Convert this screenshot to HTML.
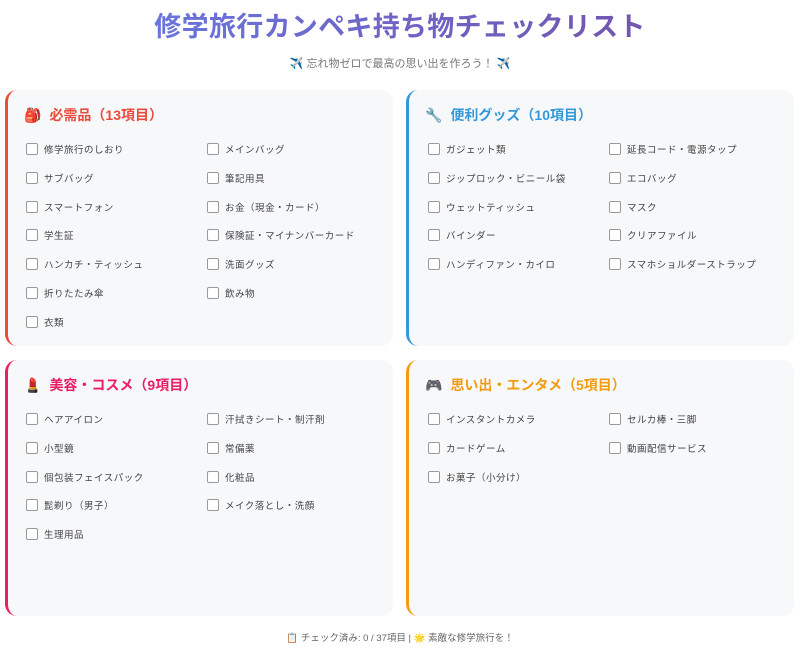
<!DOCTYPE html>
<html><head><meta charset="utf-8"><style>
*{margin:0;padding:0;box-sizing:border-box}
body{width:800px;height:651px;background:#fff;font-family:"Liberation Sans","Noto Sans CJK JP",sans-serif;position:relative;overflow:hidden}
h1{position:absolute;top:5px;left:0;width:800px;text-align:center;font-size:27px;font-weight:bold;color:#6a5fc8;background:linear-gradient(90deg,#667eea,#764ba2);-webkit-background-clip:text;background-clip:text;-webkit-text-fill-color:transparent;letter-spacing:0.3px}
.sub{position:absolute;top:55px;left:0;width:800px;text-align:center;font-size:11px;color:#777}
.card{position:absolute;width:388px;height:256px;background:#f7f8fa;border-radius:12px;border-left:3px solid}
.card h2{position:absolute;left:16px;top:15px;font-size:14px;font-weight:bold}
.card h2 span{margin-right:8px}
.it{position:absolute;font-size:9.5px;color:#444;white-space:nowrap;letter-spacing:0.5px}
.it:before{content:"";display:inline-block;width:10px;height:10px;border:1px solid #999;border-radius:2px;background:#fff;vertical-align:-2px;margin-right:6px}
.foot{position:absolute;top:630px;left:0;width:800px;text-align:center;font-size:9.5px;color:#666}
</style></head><body>
<h1>修学旅行カンペキ持ち物チェックリスト</h1>
<div class="sub">✈️ 忘れ物ゼロで最高の思い出を作ろう！ ✈️</div>

<div class="card" style="left:5px;top:90px;border-color:#e74c3c">
<h2 style="color:#e74c3c"><span>🎒</span>必需品（13項目）</h2>
<div class="it" style="left:18px;top:52px">修学旅行のしおり</div><div class="it" style="left:199px;top:52px">メインバッグ</div>
<div class="it" style="left:18px;top:81px">サブバッグ</div><div class="it" style="left:199px;top:81px">筆記用具</div>
<div class="it" style="left:18px;top:110px">スマートフォン</div><div class="it" style="left:199px;top:110px">お金（現金・カード）</div>
<div class="it" style="left:18px;top:138px">学生証</div><div class="it" style="left:199px;top:138px">保険証・マイナンバーカード</div>
<div class="it" style="left:18px;top:167px">ハンカチ・ティッシュ</div><div class="it" style="left:199px;top:167px">洗面グッズ</div>
<div class="it" style="left:18px;top:196px">折りたたみ傘</div><div class="it" style="left:199px;top:196px">飲み物</div>
<div class="it" style="left:18px;top:225px">衣類</div>
</div>

<div class="card" style="left:406px;top:90px;border-color:#3498db">
<h2 style="color:#3498db"><span>🔧</span>便利グッズ（10項目）</h2>
<div class="it" style="left:19px;top:52px">ガジェット類</div><div class="it" style="left:200px;top:52px">延長コード・電源タップ</div>
<div class="it" style="left:19px;top:81px">ジップロック・ビニール袋</div><div class="it" style="left:200px;top:81px">エコバッグ</div>
<div class="it" style="left:19px;top:110px">ウェットティッシュ</div><div class="it" style="left:200px;top:110px">マスク</div>
<div class="it" style="left:19px;top:138px">バインダー</div><div class="it" style="left:200px;top:138px">クリアファイル</div>
<div class="it" style="left:19px;top:167px">ハンディファン・カイロ</div><div class="it" style="left:200px;top:167px">スマホショルダーストラップ</div>
</div>

<div class="card" style="left:5px;top:360px;border-color:#e91e63">
<h2 style="color:#e91e63"><span>💄</span>美容・コスメ（9項目）</h2>
<div class="it" style="left:18px;top:52px">ヘアアイロン</div><div class="it" style="left:199px;top:52px">汗拭きシート・制汗剤</div>
<div class="it" style="left:18px;top:81px">小型鏡</div><div class="it" style="left:199px;top:81px">常備薬</div>
<div class="it" style="left:18px;top:110px">個包装フェイスパック</div><div class="it" style="left:199px;top:110px">化粧品</div>
<div class="it" style="left:18px;top:138px">髭剃り（男子）</div><div class="it" style="left:199px;top:138px">メイク落とし・洗顔</div>
<div class="it" style="left:18px;top:167px">生理用品</div>
</div>

<div class="card" style="left:406px;top:360px;border-color:#f39c12">
<h2 style="color:#f39c12"><span>🎮</span>思い出・エンタメ（5項目）</h2>
<div class="it" style="left:19px;top:52px">インスタントカメラ</div><div class="it" style="left:200px;top:52px">セルカ棒・三脚</div>
<div class="it" style="left:19px;top:81px">カードゲーム</div><div class="it" style="left:200px;top:81px">動画配信サービス</div>
<div class="it" style="left:19px;top:110px">お菓子（小分け）</div>
</div>

<div class="foot">📋 チェック済み: 0 / 37項目 | 🌟 素敵な修学旅行を！</div>
</body></html>
